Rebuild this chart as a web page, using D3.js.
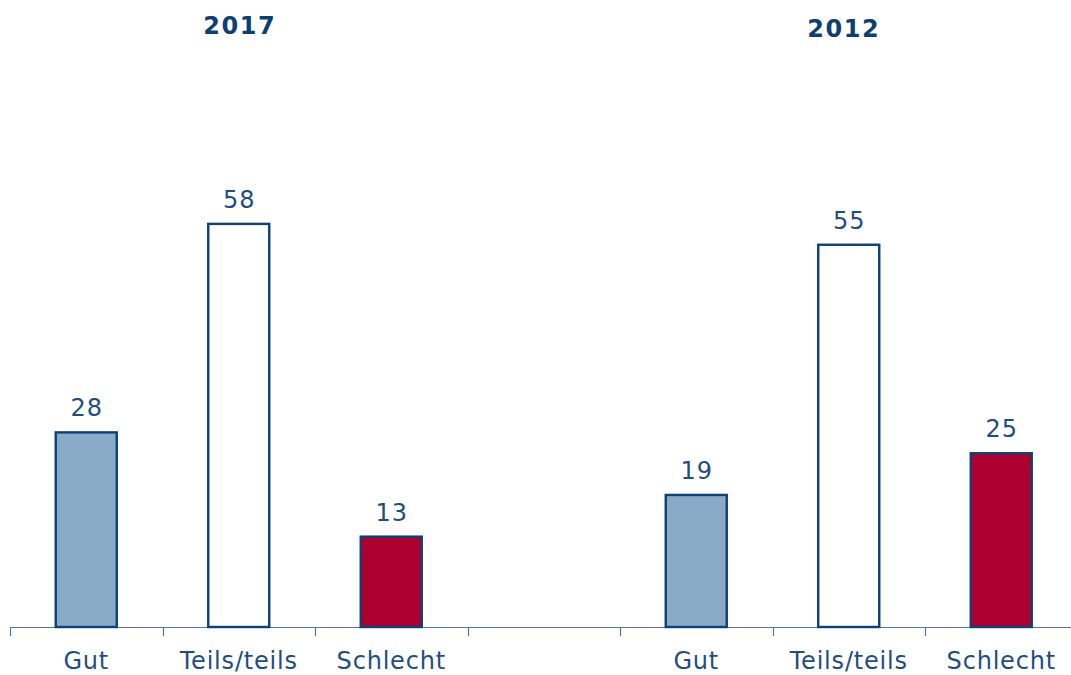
<!DOCTYPE html>
<html>
<head>
<meta charset="utf-8">
<script src="https://cdn.jsdelivr.net/npm/d3@7"></script>
<style>
  html, body { margin: 0; padding: 0; background: #fff; }
  svg { display: block; }
</style>
</head>
<body>
<svg id="chart" width="1071" height="675"></svg>
<script>
// ---- Data ----
const slots = ["g17", "t17", "s17", "gap", "g12", "t12", "s12"];
const slotLabels = ["Gut", "Teils/teils", "Schlecht", "", "Gut", "Teils/teils", "Schlecht"];
const barSlots = ["g17", "t17", "s17", "g12", "t12", "s12"];
const barValues = [28, 58, 13, 19, 55, 25];
const barKinds = ["gut", "teils", "schlecht", "gut", "teils", "schlecht"];
const groupTitles = ["2017", "2012"];
const groupCenters = ["t17", "t12"];

// ---- Layout ----
const W = 1071, H = 675;
const baseY = 627;
const svg = d3.select("#chart");
const textColor = "#1f4e80";
const strokeColor = "#0e3f75";
const fills = { gut: "#8aabc8", teils: "#ffffff", schlecht: "#ad0030" };
const font = "'DejaVu Sans', Verdana, sans-serif";

const x = d3.scaleBand().domain(slots).range([10, 1077.5]).padding(0);
const y = d3.scaleLinear().domain([0, 90]).range([baseY, baseY - 625.5]);
const bw = x.bandwidth();
const barW = bw * 0.4;

// Axis
const axis = d3.axisBottom(x).tickSize(0).tickFormat((d, i) => slotLabels[i]);
const axG = svg.append("g").attr("transform", `translate(0,${baseY})`).call(axis);
axG.select(".domain").remove();
axG.selectAll(".tick text")
  .attr("dy", 0).attr("y", 42)
  .attr("fill", textColor)
  .style("font-family", font).style("font-size", "24px")
  .style("letter-spacing", "0.8px");
svg.append("line")
  .attr("x1", 10).attr("x2", W).attr("y1", baseY + 0.5).attr("y2", baseY + 0.5)
  .attr("stroke", "#4f7aa6").attr("stroke-width", 1.2);
svg.selectAll("line.sep").data(slots).enter().append("line")
  .attr("class", "sep")
  .attr("x1", d => Math.round(x(d)) + 0.5).attr("x2", d => Math.round(x(d)) + 0.5)
  .attr("y1", baseY).attr("y2", baseY + 9)
  .attr("stroke", "#4f7aa6").attr("stroke-width", 1.2);

// Bars
const bars = barSlots.map((s, i) => ({ s, v: barValues[i], k: barKinds[i] }));
svg.selectAll("rect.bar").data(bars).enter().append("rect")
  .attr("class", "bar")
  .attr("x", d => x(d.s) + (bw - barW) / 2)
  .attr("width", barW)
  .attr("y", d => y(d.v))
  .attr("height", d => baseY - y(d.v))
  .attr("fill", d => fills[d.k])
  .attr("stroke", strokeColor).attr("stroke-width", 2.4);

// Value labels
svg.selectAll("text.val").data(bars).enter().append("text")
  .attr("class", "val")
  .attr("x", d => x(d.s) + bw / 2 + 0.5)
  .attr("y", d => y(d.v) - 16)
  .attr("text-anchor", "middle")
  .attr("fill", textColor)
  .style("font-family", font).style("font-size", "24px")
  .style("letter-spacing", "1px")
  .text(d => d.v);

// Group titles
const titleOffsets = [0, -6];
const titleY = [34, 37];
svg.selectAll("text.title").data(groupTitles).enter().append("text")
  .attr("class", "title")
  .attr("x", (d, i) => x(groupCenters[i]) + bw / 2 + titleOffsets[i] + 1)
  .attr("y", (d, i) => titleY[i])
  .attr("text-anchor", "middle")
  .attr("fill", "#0d3f73")
  .style("font-family", font).style("font-size", "24px").style("font-weight", "bold")
  .style("letter-spacing", "1.5px")
  .text(d => d);
</script>
</body>
</html>
